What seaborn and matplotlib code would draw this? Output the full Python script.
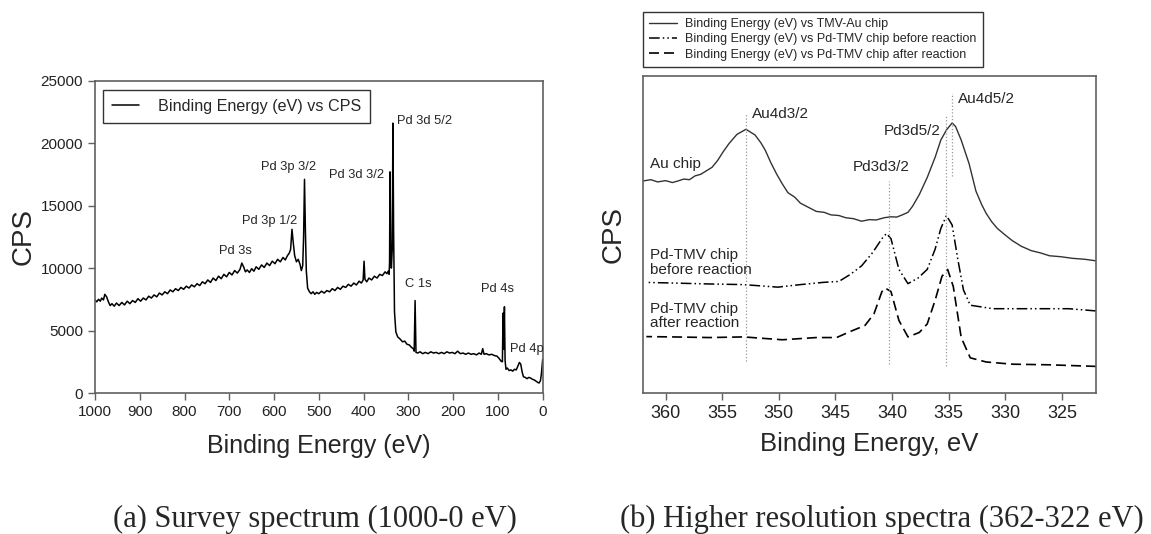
import numpy as np
import pandas as pd
import matplotlib
matplotlib.use("Agg")
import matplotlib.pyplot as plt
import seaborn as sns

# ---------------------------------------------------------
# Data
# ---------------------------------------------------------
# (a) survey spectrum, 1000-0 eV, as (binding energy, CPS) pairs
survey_points = [
    (1000, 7450), (996, 7300), (992, 7500), (988, 7350), (985, 7600), (981, 7450),
    (978, 7900), (974, 7700), (970, 7300), (966, 7000), (962, 7150), (957, 6950),
    (952, 7200), (946, 7000), (940, 7250), (934, 7050), (928, 7350), (922, 7150),
    (916, 7400), (910, 7250), (904, 7550), (898, 7350), (892, 7600), (886, 7450),
    (880, 7750), (874, 7600), (868, 7850), (862, 7700), (856, 8000), (850, 7850),
    (844, 8100), (838, 7950), (832, 8250), (826, 8100), (820, 8350), (814, 8200),
    (808, 8450), (802, 8300), (796, 8550), (790, 8400), (784, 8650), (778, 8500),
    (772, 8750), (766, 8600), (760, 8900), (754, 8750), (748, 9050), (742, 8850),
    (736, 9200), (730, 9000), (724, 9350), (718, 9150), (712, 9500), (706, 9300),
    (700, 9650), (694, 9450), (688, 9800), (682, 9600), (676, 9900), (672, 10400),
    (668, 10100), (664, 9700), (660, 9850), (655, 9650), (650, 9950), (645, 9750),
    (640, 10100), (634, 9900), (628, 10250), (622, 10050), (616, 10400), (610, 10200),
    (604, 10550), (598, 10350), (592, 10700), (586, 10500), (580, 10850), (575, 10650),
    (570, 11000), (566, 11200), (563, 11500), (560, 13100), (557, 12000), (554, 11000),
    (550, 10500), (546, 10700), (542, 10300), (539, 9800), (536, 10200), (534, 12500),
    (532, 17100), (530, 13000), (528, 9800), (525, 8400), (521, 8100), (517, 7950),
    (513, 8100), (509, 7900), (505, 8050), (500, 7950), (494, 8150), (488, 8000),
    (482, 8200), (476, 8100), (470, 8350), (464, 8200), (458, 8450), (452, 8300),
    (446, 8550), (440, 8450), (434, 8700), (428, 8550), (422, 8800), (416, 8650),
    (410, 8950), (405, 8800), (401, 9050), (399, 10550), (397, 9100), (393, 8900),
    (388, 9200), (382, 9050), (376, 9350), (370, 9200), (364, 9500), (358, 9400),
    (352, 9700), (348, 9550), (345, 9750), (343, 9500), (342, 10500), (341, 17700),
    (339.5, 12000), (338, 10000), (336, 11500), (334.5, 21600), (333, 13000),
    (331, 6500), (328, 4900), (324, 4500), (318, 4300), (313, 4100), (308, 4150),
    (303, 3900), (298, 3850), (293, 3650), (289, 3550), (287, 3350), (285, 7400),
    (283, 3250), (279, 3200), (274, 3300), (268, 3150), (262, 3250), (256, 3150),
    (250, 3300), (244, 3200), (238, 3250), (232, 3150), (226, 3250), (220, 3150),
    (214, 3300), (208, 3200), (202, 3250), (196, 3150), (190, 3350), (184, 3150),
    (178, 3200), (172, 3100), (166, 3200), (160, 3100), (154, 3150), (148, 3050),
    (142, 3200), (137, 3100), (134, 3550), (131, 3100), (126, 3150), (120, 3050),
    (114, 3100), (108, 3000), (102, 2950), (97, 2750), (93, 2550), (90, 2500),
    (88.5, 6400), (87, 3500), (85.5, 6900), (84, 2600), (82, 1900), (79, 2000),
    (75, 1800), (71, 1850), (67, 1750), (63, 1900), (59, 1850), (55, 2200),
    (52, 2450), (49, 2300), (46, 1700), (43, 1300), (39, 1250), (35, 1150),
    (31, 1250), (27, 1200), (23, 1100), (19, 1050), (15, 950), (11, 850),
    (8, 800), (5, 1000), (3, 1500), (1.5, 2100), (0, 2700),
]
survey_be = [p[0] for p in survey_points]
survey_cps = [p[1] for p in survey_points]

survey_labels = ["Pd 3s", "Pd 3p 1/2", "Pd 3p 3/2", "Pd 3d 3/2", "Pd 3d 5/2",
                 "C 1s", "Pd 4s", "Pd 4p"]
survey_label_be = [686, 611, 568, 415, 326, 277, 100, 74]
survey_label_cps = [11400, 13750, 18100, 17450, 21750, 8700, 8300, 3550]
survey_label_ha = ["center", "center", "center", "center", "left", "center",
                   "center", "left"]

# (b) high resolution spectra, 362-322 eV (arbitrary CPS units, offset)
au_be = [362.0, 361.3, 360.7, 360.0, 359.4, 358.9, 358.4, 357.9, 357.4, 356.9,
         356.4, 355.9, 355.4, 354.9, 354.4, 353.7, 352.9, 352.1, 351.6, 351.2,
         350.7, 350.2, 349.7, 349.2, 348.6, 348.1, 347.4, 346.7, 346.0, 345.4,
         344.7, 344.1, 343.4, 342.7, 342.0, 341.4, 340.7, 340.1, 339.6, 339.1,
         338.6, 338.2, 337.6, 336.9, 336.2, 335.7, 335.2, 334.7, 334.4, 333.9,
         333.2, 332.6, 332.1, 331.7, 331.2, 330.7, 330.0, 329.4, 328.6, 327.7,
         326.9, 326.1, 325.1, 324.1, 323.0, 322.0]
au_cps = [66.9, 67.3, 66.6, 67.0, 66.4, 66.9, 67.5, 67.3, 68.5, 69.0,
          70.1, 71.2, 73.4, 76.2, 78.7, 81.6, 83.2, 81.4, 79.0, 76.6,
          72.6, 69.1, 66.0, 63.2, 61.8, 59.9, 58.6, 57.3, 57.0, 56.2,
          56.0, 55.3, 55.0, 54.2, 54.7, 54.6, 55.3, 55.6, 55.5, 56.2,
          57.0, 58.9, 62.6, 68.0, 74.4, 79.8, 83.0, 85.2, 84.1, 79.8,
          72.3, 63.7, 59.5, 56.7, 54.0, 51.9, 49.8, 48.1, 46.3, 44.9,
          44.2, 43.3, 43.0, 42.5, 42.2, 41.7]

before_be = [361.7, 359.4, 356.1, 353.1, 350.1, 348.1, 346.1, 344.7, 343.7, 342.7,
             341.7, 340.9, 340.5, 340.1, 339.4, 338.6, 337.7, 336.9, 336.2, 335.7,
             335.2, 334.7, 334.2, 333.7, 333.1, 331.1, 327.7, 324.4, 322.0]
before_cps = [34.9, 34.7, 34.4, 34.2, 33.4, 34.2, 34.9, 35.2, 37.4, 40.1,
              44.4, 48.7, 50.3, 48.7, 39.0, 34.5, 36.3, 39.0, 45.4, 51.9,
              56.0, 53.0, 42.2, 32.5, 27.7, 26.6, 26.6, 26.6, 25.9]

after_be = [361.7, 359.4, 356.1, 353.1, 349.7, 346.7, 344.9, 343.7, 342.4, 341.6,
            340.9, 340.6, 340.1, 339.4, 338.6, 337.6, 336.9, 336.2, 335.6, 335.1,
            334.6, 333.9, 333.1, 331.7, 329.4, 326.1, 322.0]
after_cps = [17.8, 17.7, 17.5, 17.7, 16.8, 17.5, 17.5, 19.4, 21.3, 25.0,
             32.0, 33.1, 32.0, 22.9, 17.7, 19.1, 21.8, 29.3, 36.8, 39.0,
             33.6, 17.5, 11.1, 9.8, 9.1, 8.9, 8.4]

# reference lines: position, bottom, top
ref_be = [352.9, 340.3, 335.2, 334.7]
ref_lo = [10.0, 9.1, 8.6, 68.5]
ref_hi = [88.4, 66.9, 87.3, 94.8]

peak_labels = ["Au4d3/2", "Au4d5/2", "Pd3d5/2", "Pd3d3/2"]
peak_be = [352.4, 334.2, 335.7, 341.0]
peak_cps = [87.9, 92.7, 82.7, 71.2]
peak_ha = ["left", "left", "right", "center"]

curve_labels = ["Au chip", "Pd-TMV chip\nbefore reaction", "Pd-TMV chip\nafter reaction"]
curve_label_cps = [72.3, 41.1, 24.3]

# ---------------------------------------------------------
# Style
# ---------------------------------------------------------
sns.set_style("white")
plt.rcParams["font.family"] = ["Liberation Sans", "DejaVu Sans"]
spine_col = "#606060"

fig = plt.figure(figsize=(11.51, 5.34), dpi=100)
ax1 = fig.add_axes([0.0825, 0.264, 0.389, 0.585])
ax2 = fig.add_axes([0.5586, 0.264, 0.3936, 0.5936])

# ---------------------------------------------------------
# (a) survey
# ---------------------------------------------------------
survey = pd.DataFrame({"be": survey_be, "cps": survey_cps})
sns.lineplot(data=survey, x="be", y="cps", ax=ax1, color="black", lw=1.1,
             sort=False, label="Binding Energy (eV) vs CPS")
ax1.set_xlim(1000, 0)
ax1.set_ylim(0, 25000)
ax1.set_xticks(range(1000, -1, -100))
ax1.set_yticks(range(0, 25001, 5000))
ax1.tick_params(axis="both", direction="out", length=5, width=1, color=spine_col,
                labelsize=11, labelcolor="#222222", bottom=True, left=True)
ax1.set_xlabel("Binding Energy (eV)", fontsize=18, labelpad=11)
ax1.set_ylabel("CPS", fontsize=20, labelpad=3)
for s in ax1.spines.values():
    s.set_color(spine_col)
    s.set_linewidth(1.2)
for lab, x, y, ha in zip(survey_labels, survey_label_be, survey_label_cps, survey_label_ha):
    ax1.text(x, y, lab, ha=ha, va="center", fontsize=9.3)
leg1 = ax1.legend(loc="upper left", bbox_to_anchor=(0.018, 0.97), fontsize=11.6,
                  frameon=True, fancybox=False, edgecolor="black", handlelength=1.7,
                  handletextpad=1.15, borderpad=0.55, borderaxespad=0)
leg1.get_frame().set_linewidth(1.0)

# ---------------------------------------------------------
# (b) high resolution
# ---------------------------------------------------------
au = pd.DataFrame({"be": au_be, "cps": au_cps})
before = pd.DataFrame({"be": before_be, "cps": before_cps})
after = pd.DataFrame({"be": after_be, "cps": after_cps})

sns.lineplot(data=au, x="be", y="cps", ax=ax2, color="#333333", lw=1.0,
             label="Binding Energy (eV) vs TMV-Au chip")
sns.lineplot(data=before, x="be", y="cps", ax=ax2, color="black", lw=1.1,
             label="Binding Energy (eV) vs Pd-TMV chip before reaction")
sns.lineplot(data=after, x="be", y="cps", ax=ax2, color="black", lw=1.2,
             label="Binding Energy (eV) vs Pd-TMV chip after reaction")
ax2.lines[1].set_linestyle((0, (7, 2, 1, 2, 1, 2)))
ax2.lines[2].set_linestyle((0, (6, 3)))

for x, lo, hi in zip(ref_be, ref_lo, ref_hi):
    ax2.plot([x, x], [lo, hi], color="#999999", lw=0.9, ls=":")
for lab, x, y, ha in zip(peak_labels, peak_be, peak_cps, peak_ha):
    ax2.text(x, y, lab, ha=ha, va="center", fontsize=11)
for lab, y in zip(curve_labels, curve_label_cps):
    ax2.text(361.4, y, lab, ha="left", va="center", fontsize=11, linespacing=1.05)

ax2.set_xlim(362, 322)
ax2.set_ylim(0, 100)
ax2.set_xticks(range(360, 324, -5))
ax2.set_yticks([])
ax2.tick_params(axis="x", direction="out", length=5, width=1, color=spine_col,
                labelsize=13, labelcolor="#222222", bottom=True)
ax2.set_xlabel("Binding Energy, eV", fontsize=18.5, labelpad=7)
ax2.set_ylabel("CPS", fontsize=20, labelpad=12)
for s in ax2.spines.values():
    s.set_color(spine_col)
    s.set_linewidth(1.2)
leg2 = ax2.legend(loc="upper left", bbox_to_anchor=(0.0, 1.202), fontsize=9,
                  frameon=True, fancybox=False, edgecolor="black", handlelength=2.2,
                  handletextpad=0.7, borderpad=0.5, borderaxespad=0, labelspacing=0.25)
leg2.get_frame().set_linewidth(1.0)

# captions
fig.text(0.2737, 0.013, "(a) Survey spectrum (1000-0 eV)", ha="center", va="baseline",
         fontsize=22, family=["Liberation Serif", "DejaVu Serif"])
fig.text(0.7663, 0.013, "(b) Higher resolution spectra (362-322 eV)", ha="center",
         va="baseline", fontsize=22, family=["Liberation Serif", "DejaVu Serif"])

fig.savefig("out.png", dpi=100)
plt.close(fig)
